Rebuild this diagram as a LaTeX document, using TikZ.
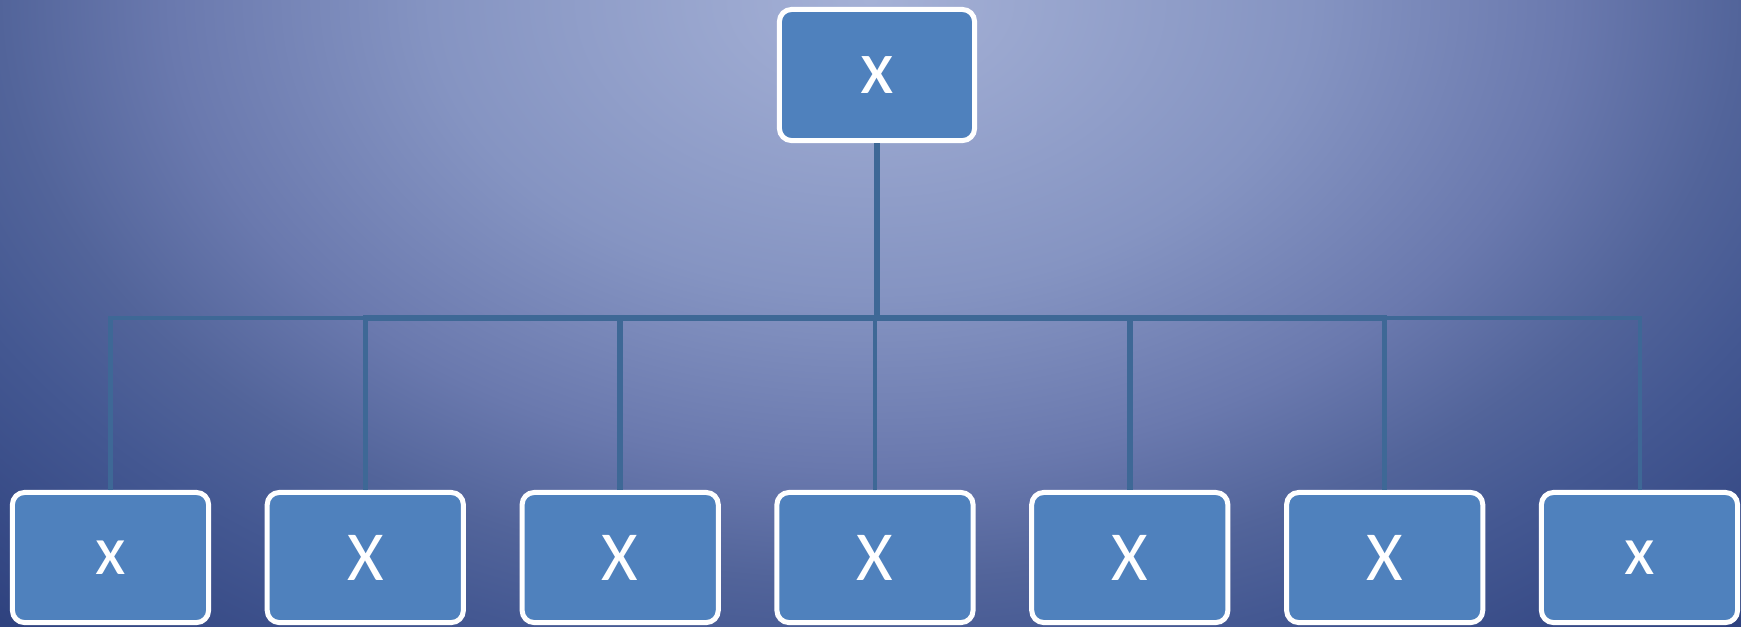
\documentclass[tikz,border=0pt]{standalone}
\usepackage{fontspec}
\setmainfont{Carlito}
\definecolor{boxfill}{RGB}{79,129,189}
\definecolor{linec}{RGB}{62,104,150}
\definecolor{bgA}{RGB}{165,177,214}
\definecolor{bgB}{RGB}{133,148,194}
\definecolor{bgC}{RGB}{106,121,174}
\definecolor{bgD}{RGB}{82,100,154}
\definecolor{bgE}{RGB}{68,88,146}
\definecolor{bgF}{RGB}{45,64,125}
\pgfdeclareradialshading{bgshade}{\pgfpoint{0bp}{0bp}}{%
  color(0bp)=(bgA); color(8.45bp)=(bgB); color(13.45bp)=(bgC);
  color(16.75bp)=(bgD); color(19.25bp)=(bgE); color(25bp)=(bgF); color(50bp)=(bgF)}
\begin{document}
\begin{tikzpicture}[x=0.01cm,y=-0.01cm,
  box/.style={draw=white, line width=0.05cm, fill=boxfill, rounded corners=0.12cm,
    minimum width=1.96cm, minimum height=1.30cm, text=white, inner sep=0pt,
    font=\fontsize{20}{24}\selectfont},
  conn/.style={draw=linec, line width=0.055cm},
  thinconn/.style={draw=linec, line width=0.04cm}]
\useasboundingbox (0,0) rectangle (1741,626);
\begin{scope}
\clip (0,0) rectangle (1741,626);
\shade[shading=bgshade] (870,0) ellipse [x radius=13cm, y radius=8.67cm];
\end{scope}
\node[box, minimum width=1.95cm, minimum height=1.31cm, font=\fontsize{22}{26}\selectfont] (top) at (877,75) {x};
\node[box] (c1) at (110.5,557.5) {x};
\node[box] (c2) at (365.3,557.5) {X};
\node[box] (c3) at (620.2,557.5) {X};
\node[box] (c4) at (875,557.5) {X};
\node[box] (c5) at (1129.8,557.5) {X};
\node[box] (c6) at (1384.7,557.5) {X};
\node[box] (c7) at (1639.5,557.5) {x};
\coordinate (bus) at (877,318);
\draw[conn] (top.south) -- (bus);
\foreach \c in {c1,c7}{
  \draw[thinconn] (bus) -| (\c.north);
}
\foreach \c in {c2,c3,c5,c6}{
  \draw[conn] (bus) -| (\c.north);
}
\draw[thinconn] (bus) -| (c4.north);
\end{tikzpicture}
\end{document}
